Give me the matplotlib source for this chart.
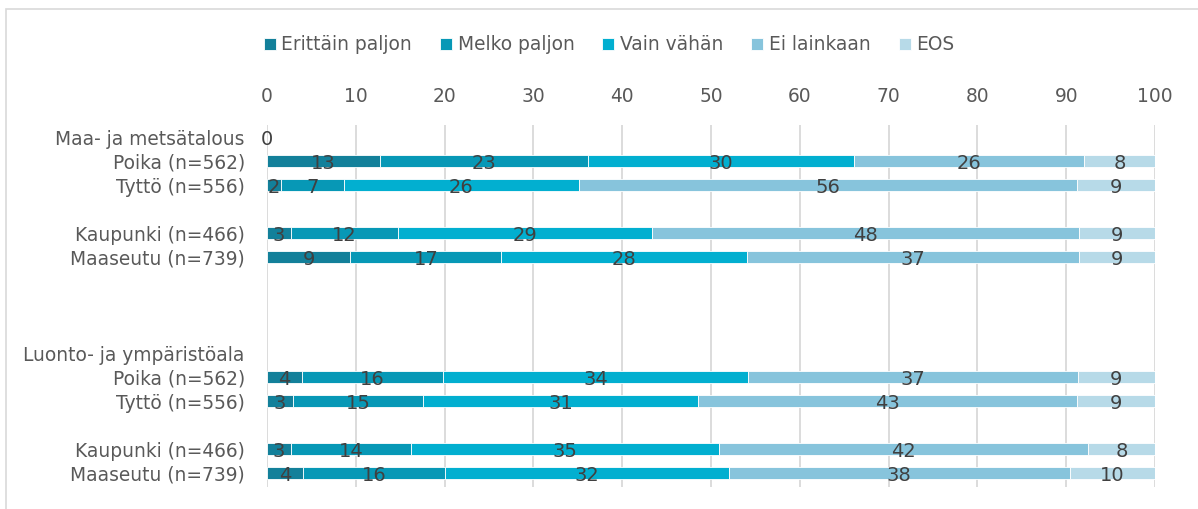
import numpy as np
import matplotlib
matplotlib.use("Agg")
import matplotlib.pyplot as plt
from matplotlib.patches import Rectangle

plt.rcParams['font.family'] = ['DejaVu Sans']

categories = ['Maa- ja metsätalous', 'Poika (n=562)', 'Tyttö (n=556)', '',
              'Kaupunki (n=466)', 'Maaseutu (n=739)', '', '', '',
              'Luonto- ja ympäristöala', 'Poika (n=562)', 'Tyttö (n=556)', '',
              'Kaupunki (n=466)', 'Maaseutu (n=739)']
series_names = ['Erittäin paljon', 'Melko paljon', 'Vain vähän', 'Ei lainkaan', 'EOS']
n = np.nan
erittain = [0, 12.7, 1.6, n, 2.7, 9.4, n, n, n, n, 3.9, 2.9, n, 2.7, 4.0]
melko    = [n, 23.4, 7.1, n, 12.1, 17.0, n, n, n, n, 15.9, 14.7, n, 13.5, 16.1]
vain     = [n, 30.0, 26.4, n, 28.6, 27.7, n, n, n, n, 34.4, 30.9, n, 34.7, 31.9]
ei       = [n, 25.9, 56.1, n, 48.0, 37.3, n, n, n, n, 37.1, 42.7, n, 41.6, 38.4]
eos      = [n, 8.0, 8.8, n, 8.6, 8.6, n, n, n, n, 8.7, 8.8, n, 7.5, 9.6]
colors = ['#13809a', '#0798b6', '#02afd0', '#87c4dc', '#b7dae8']
xticks = [0, 10, 20, 30, 40, 50, 60, 70, 80, 90, 100]

fig = plt.figure(figsize=(11.98, 5.09), dpi=100)
ax = fig.add_axes([267/1198, 1 - 487/509, 888/1198, 362/509])

y = np.arange(len(categories))
left = np.zeros(len(categories))
for name, vals, c in zip(series_names, [erittain, melko, vain, ei, eos], colors):
    v = np.array(vals, dtype=float)
    ok = ~np.isnan(v) & (np.nan_to_num(v) > 0)
    ax.barh(y[ok], v[ok], left=left[ok], height=0.47, color=c,
            edgecolor='white', linewidth=0.6, label=name, zorder=2)
    for yi, vi, li in zip(y, v, left):
        if not np.isnan(vi):
            ax.text(li + vi / 2, yi + 0.12, f"{vi:.0f}", ha='center', va='center',
                    fontsize=14, color='#404040', zorder=3)
    left = left + np.nan_to_num(v)

ax.set_xlim(0, 100)
ax.set_ylim(14.58, -0.5)
ax.set_xticks(xticks)
ax.xaxis.tick_top()
ax.set_yticks(y)
ax.set_yticklabels(categories)
ax.tick_params(axis='x', length=0, pad=14, labelsize=13.4, labelcolor='#595959')
ax.tick_params(axis='y', length=0, pad=16, labelsize=13.4, labelcolor='#595959')
ax.grid(axis='x', color='#d9d9d9', linewidth=1.3, zorder=0)
ax.set_axisbelow(True)
for s in ax.spines.values():
    s.set_visible(False)

fig.legend(loc='center', bbox_to_anchor=(609/1198, 1 - 45/509), ncol=5, frameon=False,
           fontsize=13.4, handlelength=0.65, handleheight=0.65, handletextpad=0.3,
           columnspacing=1.5, labelcolor='#595959')

# chart border (partly cropped in the original)
fig.patches.append(Rectangle((6/1198, -0.1), 1.2, 1 - 9/509 + 0.1, transform=fig.transFigure,
                             fill=False, edgecolor='#d9d9d9', linewidth=1.2))

fig.savefig('out.png', dpi=100)
